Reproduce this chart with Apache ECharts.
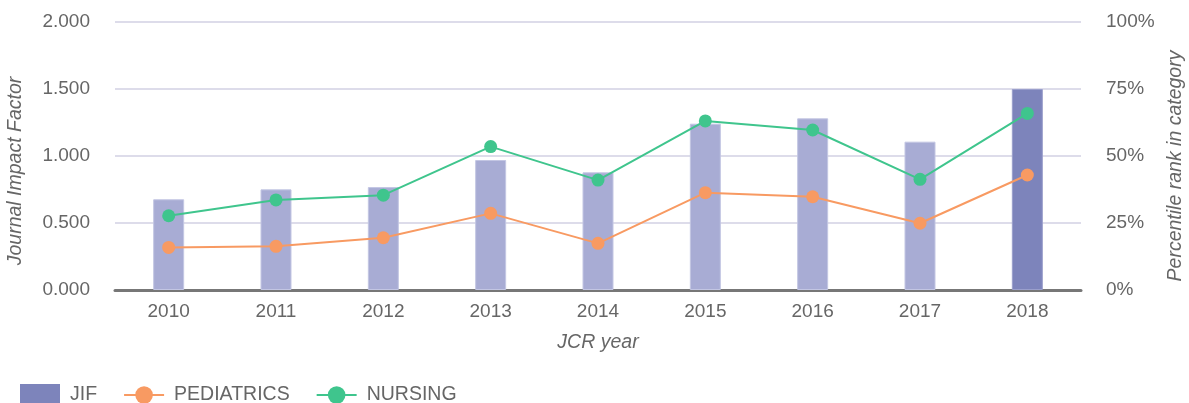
<!DOCTYPE html>
<html>
<head>
<meta charset="utf-8">
<script src="https://cdn.jsdelivr.net/npm/echarts@6/dist/echarts.min.js"></script>
<style>
  html, body { margin: 0; padding: 0; background: #fff; }
  #chart { width: 1189px; height: 403px; }
</style>
</head>
<body>
<div id="chart"></div>
<script>
const years = ['2010', '2011', '2012', '2013', '2014', '2015', '2016', '2017', '2018']
const jif = [0.677, 0.751, 0.768, 0.970, 0.878, 1.241, 1.281, 1.107, 1.500]
const pediatrics = [15.9, 16.3, 19.5, 28.6, 17.4, 36.3, 34.8, 24.9, 42.9]
const nursing = [27.7, 33.6, 35.4, 53.5, 41.0, 63.1, 59.7, 41.3, 65.9]

const textColor = '#666'
const gridColor = '#dddcea'
const font = 'Liberation Sans, Arial, sans-serif'

const chart = echarts.init(document.getElementById('chart'))

chart.setOption({
  animation: false,
  backgroundColor: '#fff',
  textStyle: { fontFamily: font },
  grid: { left: 115, right: 108, top: 22, bottom: 113, outerBoundsMode: 'none', containLabel: false },
  legend: {
    left: 15,
    top: 379,
    itemWidth: 40,
    itemHeight: 22,
    itemGap: 26,
    textStyle: { color: textColor, fontSize: 19.5, fontFamily: font, padding: [0, 0, 0, 5] },
    data: [{ name: 'JIF', icon: 'rect' }, 'PEDIATRICS', 'NURSING'],
  },
  xAxis: {
    type: 'category',
    data: years,
    name: 'JCR year',
    nameLocation: 'middle',
    nameGap: 43,
    nameTextStyle: { color: textColor, fontSize: 19.5, fontStyle: 'italic' },
    axisLine: { lineStyle: { color: '#777', width: 3 } },
    axisTick: { alignWithLabel: true, length: 6, lineStyle: { color: '#555', width: 3 } },
    axisLabel: { color: textColor, fontSize: 19, margin: 12 },
  },
  yAxis: [
    {
      type: 'value',
      min: 0,
      max: 2,
      interval: 0.5,
      name: 'Journal Impact Factor',
      nameLocation: 'middle',
      nameGap: 89,
      nameTextStyle: { color: textColor, fontSize: 19.5, fontStyle: 'italic', padding: [0, 30, 0, 0] },
      axisLine: { show: false },
      axisTick: { show: false },
      axisLabel: { color: textColor, fontSize: 19, margin: 25, formatter: (v) => v.toFixed(3) },
      splitLine: { lineStyle: { color: gridColor, width: 2 } },
    },
    {
      type: 'value',
      min: 0,
      max: 100,
      interval: 25,
      name: 'Percentile rank in category',
      nameLocation: 'middle',
      nameGap: 85,
      nameTextStyle: { color: textColor, fontSize: 19.5, fontStyle: 'italic', padding: [0, 20, 0, 0] },
      axisLine: { show: false },
      axisTick: { show: false },
      axisLabel: { color: textColor, fontSize: 19, margin: 25, formatter: '{value}%' },
      splitLine: { show: false },
    },
  ],
  series: [
    {
      name: 'JIF',
      type: 'bar',
      barWidth: 31,
      itemStyle: { color: '#7d84bb' },
      data: jif.map((v, i) => ({
        value: v,
        itemStyle: { color: i === jif.length - 1 ? '#7d84bb' : '#a8acd4', borderColor: i === jif.length - 1 ? '#9a9fcc' : '#c3c6e3', borderWidth: 1 },
      })),
      z: 1,
    },
    {
      name: 'PEDIATRICS',
      type: 'line',
      yAxisIndex: 1,
      data: pediatrics,
      symbol: 'circle',
      symbolSize: 13,
      lineStyle: { width: 2, color: '#f89a62' },
      itemStyle: { color: '#f89a62' },
      z: 3,
    },
    {
      name: 'NURSING',
      type: 'line',
      yAxisIndex: 1,
      data: nursing,
      symbol: 'circle',
      symbolSize: 13,
      lineStyle: { width: 2, color: '#3fc58d' },
      itemStyle: { color: '#3fc58d' },
      z: 3,
    },
  ],
})
</script>
</body>
</html>
